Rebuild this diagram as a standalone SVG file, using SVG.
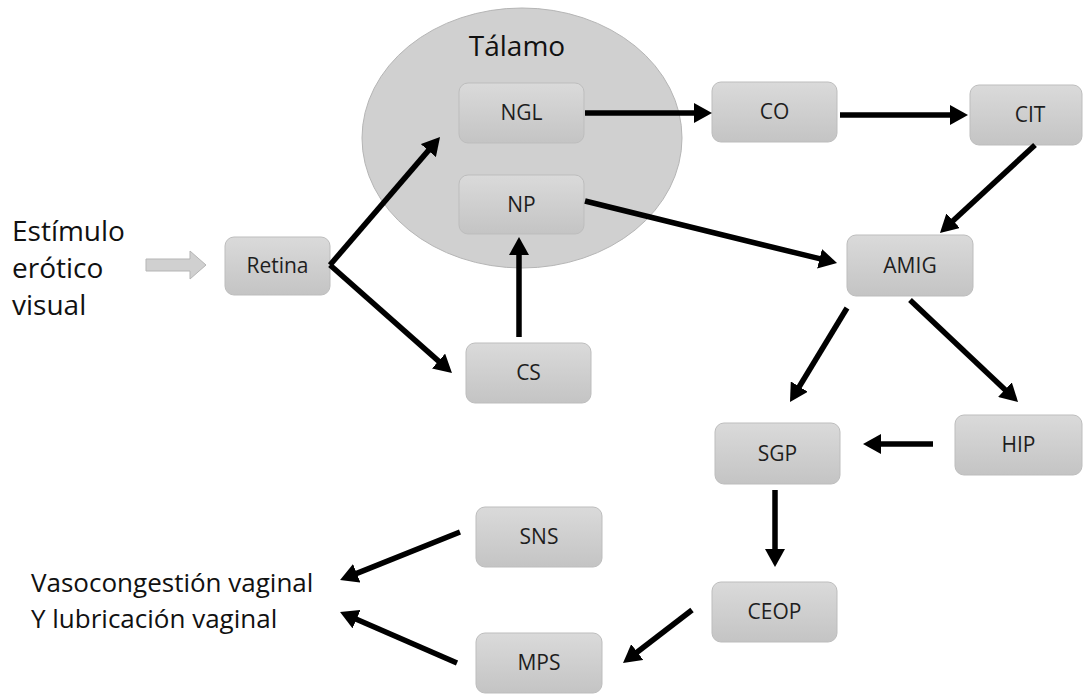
<svg xmlns="http://www.w3.org/2000/svg" width="1086" height="694" viewBox="0 0 1086 694">
<defs>
<linearGradient id="boxg" x1="0" y1="0" x2="0" y2="1">
<stop offset="0" stop-color="#dadada"/>
<stop offset="1" stop-color="#c4c4c4"/>
</linearGradient>
<marker id="ah" markerUnits="userSpaceOnUse" markerWidth="20" markerHeight="20" refX="2" refY="10" orient="auto">
<path d="M0,0 L18,10 L0,20 z" fill="#000"/>
</marker>
</defs>
<style>
.box{fill:url(#boxg);stroke:#bdbdbd;stroke-width:1}
.lbl{font-family:"Open Sans","Liberation Sans",sans-serif;font-size:21px;fill:#1e1e1e;text-anchor:middle;dominant-baseline:central}
.big{font-family:"Open Sans","Liberation Sans",sans-serif;font-size:28px;fill:#111}
.conn line{stroke:#000;stroke-width:5.5;marker-end:url(#ah)}
</style>
<rect width="1086" height="694" fill="#fff"/>
<g id="talamo">
<ellipse cx="522" cy="138" rx="160" ry="130" fill="#d0d0d0" stroke="#b5b5b5" stroke-width="1"/>
<text x="517" y="56" class="big" text-anchor="middle">Tálamo</text>
</g>
<g id="ngl"><rect class="box" x="459" y="83" width="125" height="60" rx="9"/><text class="lbl" x="521.5" y="112">NGL</text></g>
<g id="np"><rect class="box" x="459" y="175" width="125" height="59" rx="9"/><text class="lbl" x="521.5" y="203.5">NP</text></g>
<g id="retina"><rect class="box" x="225" y="237" width="105" height="58" rx="9"/><text class="lbl" x="277.5" y="265">Retina</text></g>
<g id="cs"><rect class="box" x="466" y="343" width="125" height="60" rx="9"/><text class="lbl" x="528.5" y="372">CS</text></g>
<g id="co"><rect class="box" x="712" y="82" width="125" height="60" rx="9"/><text class="lbl" x="774.5" y="111">CO</text></g>
<g id="cit"><rect class="box" x="970" y="85" width="112" height="60" rx="9"/><text class="lbl" x="1030" y="114">CIT</text></g>
<g id="amig"><rect class="box" x="847" y="235" width="126" height="61" rx="9"/><text class="lbl" x="910" y="264.5">AMIG</text></g>
<g id="sgp"><rect class="box" x="715" y="423" width="125" height="61" rx="9"/><text class="lbl" x="777.5" y="452.5">SGP</text></g>
<g id="hip"><rect class="box" x="955" y="415" width="127" height="60" rx="9"/><text class="lbl" x="1018.5" y="444">HIP</text></g>
<g id="sns"><rect class="box" x="476" y="507" width="126" height="60" rx="9"/><text class="lbl" x="539" y="536">SNS</text></g>
<g id="ceop"><rect class="box" x="712" y="582" width="125" height="60" rx="9"/><text class="lbl" x="774.5" y="611">CEOP</text></g>
<g id="mps"><rect class="box" x="476" y="633" width="126" height="60" rx="9"/><text class="lbl" x="539" y="662">MPS</text></g>
<g id="estimulo">
<text class="big" x="12" y="241">Estímulo</text>
<text class="big" x="12" y="278">erótico</text>
<text class="big" x="12" y="315">visual</text>
<path d="M146,259 L190,259 L190,251 L206,265 L190,279 L190,271 L146,271 z" fill="#d0d0d0" stroke="#b5b5b5" stroke-width="1"/>
</g>
<g id="resultado">
<text class="big" x="31" y="592" style="font-size:26px">Vasocongestión vaginal</text>
<text class="big" x="31" y="628" style="font-size:26px">Y lubricación vaginal</text>
</g>
<g id="connectors" class="conn">
<line x1="585" y1="113" x2="696" y2="113"/>
<line x1="840" y1="115" x2="952" y2="115"/>
<line x1="1035" y1="145" x2="951.7" y2="222.1"/>
<line x1="585" y1="201" x2="821.5" y2="259.2"/>
<line x1="330" y1="265" x2="429.6" y2="149.1"/>
<line x1="330" y1="265" x2="440" y2="362.4"/>
<line x1="519" y1="337" x2="519" y2="253"/>
<line x1="847" y1="308" x2="798.3" y2="388.3"/>
<line x1="910" y1="300" x2="1006.4" y2="391"/>
<line x1="933" y1="444" x2="879" y2="444"/>
<line x1="775" y1="490" x2="775" y2="551"/>
<line x1="692" y1="610" x2="635.7" y2="653.3"/>
<line x1="460" y1="532" x2="354.9" y2="574.1"/>
<line x1="457" y1="663" x2="354.7" y2="618.4"/>
</g>
</svg>
